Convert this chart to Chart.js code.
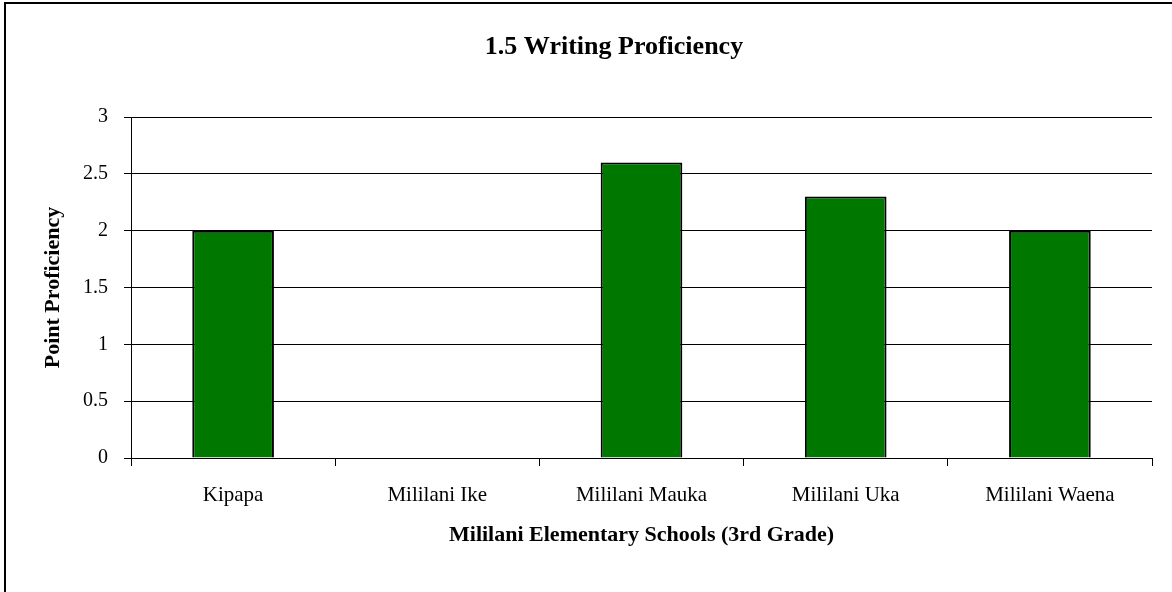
<!DOCTYPE html>
<html>
<head>
<meta charset="utf-8">
<script src="https://cdn.jsdelivr.net/npm/chart.js@4/dist/chart.umd.min.js"></script>
<style>
  html, body { margin: 0; padding: 0; background: #fff; }
  #wrap { width: 1172px; height: 592px; }
</style>
</head>
<body>
<div id="wrap"><canvas id="chart"></canvas></div>
<script>
// data
const schools = ["Kipapa", "Mililani Ike", "Mililani Mauka", "Mililani Uka", "Mililani Waena"];
const proficiency = [2, null, 2.6, 2.3, 2];
const yTicks = [0, 0.5, 1, 1.5, 2, 2.5, 3];
const chartTitle = "1.5 Writing Proficiency";

const serif = "'Liberation Serif', 'Times New Roman', serif";

// frame round the picture + the title, which sits a bit right of the canvas centre
const framePlugin = {
    id: "frame",
    afterDraw(chart) {
        const c = chart.ctx;
        c.save();
        c.strokeStyle = "#000";
        c.lineWidth = 2;
        c.strokeRect(5, 3, 1400, 800);
        c.fillStyle = "#000";
        c.font = "bold 26px " + serif;
        c.textAlign = "center";
        c.textBaseline = "middle";
        c.fillText(chartTitle, 614, 47);
        c.restore();
    }
};

new Chart(document.getElementById("chart"), {
    type: "bar",
    data: {
        labels: schools,
        datasets: [{
            label: "Point Proficiency",
            data: proficiency,
            backgroundColor: "#007800",
            borderColor: "#000",
            borderWidth: 2,
            barPercentage: 0.4,
            categoryPercentage: 1
        }]
    },
    options: {
        responsive: true,
        maintainAspectRatio: false,
        animation: false,
        layout: { padding: { left: 0, right: 20, top: 117, bottom: 0 } },
        plugins: {
            legend: { display: false },
            tooltip: { enabled: false },
            title: { display: false }
        },
        scales: {
            x: {
                afterFit(scale) { scale.height = 134; },
                grid: {
                    offset: true,
                    drawOnChartArea: false,
                    color: "#000",
                    tickLength: 8
                },
                border: { color: "#000", width: 1 },
                ticks: {
                    color: "#000",
                    padding: 17,
                    maxRotation: 0,
                    font: { family: serif, size: 21 }
                },
                title: {
                    display: true,
                    text: "Mililani Elementary Schools (3rd Grade)",
                    color: "#000",
                    font: { family: serif, size: 22, weight: "bold" },
                    padding: { top: 43, bottom: 43 }
                }
            },
            y: {
                min: 0,
                max: 3,
                afterFit(scale) { scale.width = 131; },
                afterBuildTicks(scale) { scale.ticks = yTicks.map(v => ({ value: v })); },
                grid: {
                    color: "#000",
                    tickLength: 7
                },
                border: { color: "#000", width: 1 },
                ticks: {
                    color: "#000",
                    padding: 16,
                    font: { family: serif, size: 20 },
                    callback: (v) => String(v)
                },
                title: {
                    display: true,
                    text: "Point Proficiency",
                    color: "#000",
                    font: { family: serif, size: 22, weight: "bold" },
                    padding: { top: 40, bottom: 40 }
                }
            }
        }
    },
    plugins: [framePlugin]
});
</script>
</body>
</html>
